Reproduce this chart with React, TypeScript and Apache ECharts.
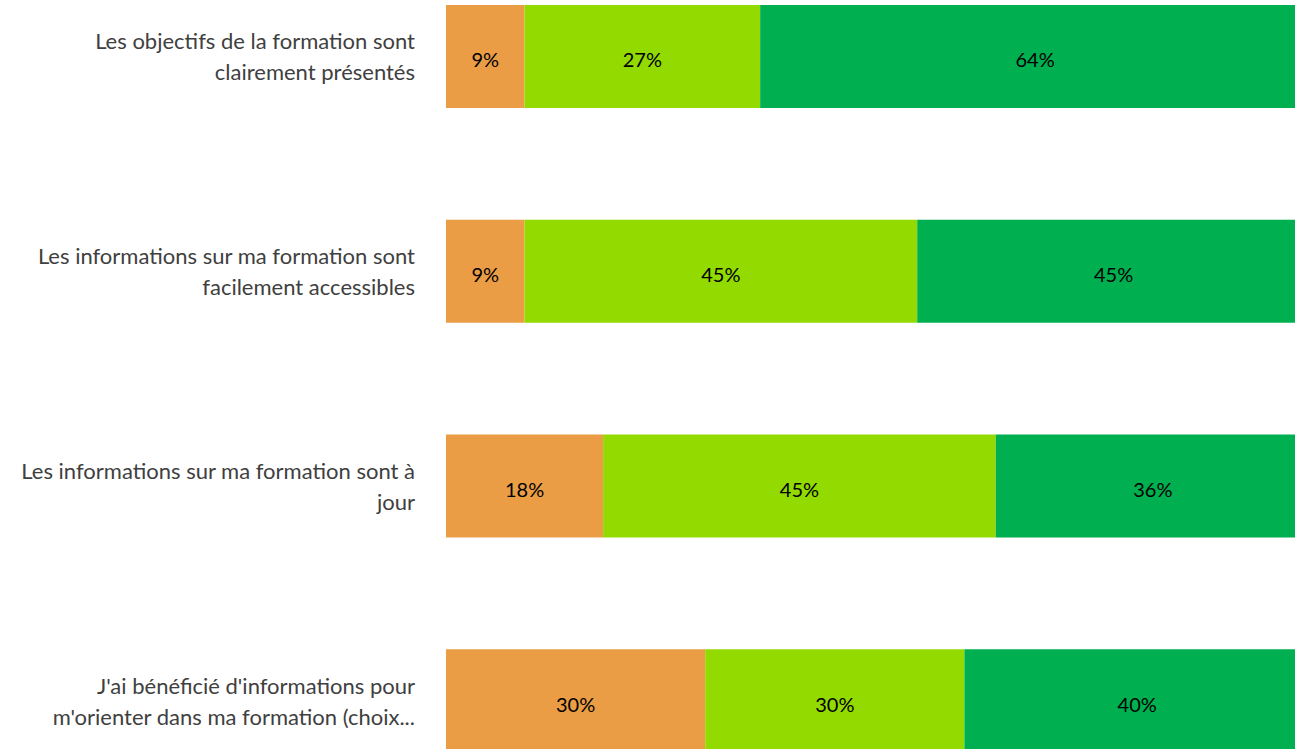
import React, { useEffect, useRef } from "react";
import * as echarts from "echarts";

const categories = [
  "Les objectifs de la formation sont\nclairement présentés",
  "Les informations sur ma formation sont\nfacilement accessibles",
  "Les informations sur ma formation sont à\njour",
  "J'ai bénéficié d'informations pour\nm'orienter dans ma formation (choix...",
];
const seriesNames = ["Plutôt non", "Plutôt oui", "Oui"];
const lowValues = [9.09, 9.09, 18.18, 30];
const midValues = [27.27, 45.45, 45.45, 30];
const highValues = [63.64, 45.45, 36.36, 40];
const colors = ["#EB9D45", "#93DA00", "#00B050"];

export default function App() {
  const ref = useRef<HTMLDivElement>(null);
  useEffect(() => {
    if (!ref.current) return;
    const chart = echarts.init(ref.current, undefined, { renderer: "svg" });
    const font = "Lato, 'Open Sans', sans-serif";
    const mk = (name: string, data: number[], color: string) => ({
      name,
      type: "bar",
      stack: "total",
      data,
      barWidth: 103,
      itemStyle: { color },
      label: {
        show: true,
        position: "inside",
        offset: [0, 3],
        color: "#000000",
        fontFamily: font,
        fontSize: 20,
        formatter: (p: any) => Math.round(p.value) + "%",
      },
    });
    chart.setOption({
      animation: false,
      grid: { left: 446, right: 0, top: 0, bottom: 0, containLabel: false },
      xAxis: { type: "value", min: 0, max: 100, show: false },
      yAxis: {
        type: "category",
        data: categories,
        inverse: true,
        axisLine: { show: false },
        axisTick: { show: false },
        splitLine: { show: false },
        axisLabel: {
          margin: 31,
          color: "#404040",
          fontFamily: font,
          fontSize: 22,
          lineHeight: 31,
          padding: [12, 0, 0, 0],
          align: "right",
        },
      },
      series: [
        mk(seriesNames[0], lowValues, colors[0]),
        mk(seriesNames[1], midValues, colors[1]),
        mk(seriesNames[2], highValues, colors[2]),
      ],
    });
    return () => chart.dispose();
  }, []);
  return (
    <div style={{ position: "fixed", left: 0, top: 0, width: 1295, height: 749, overflow: "hidden", background: "#fff" }}>
      <div
        ref={ref}
        style={{ position: "absolute", left: 0, top: -51, width: 1310, height: 859 }}
      />
    </div>
  );
}
